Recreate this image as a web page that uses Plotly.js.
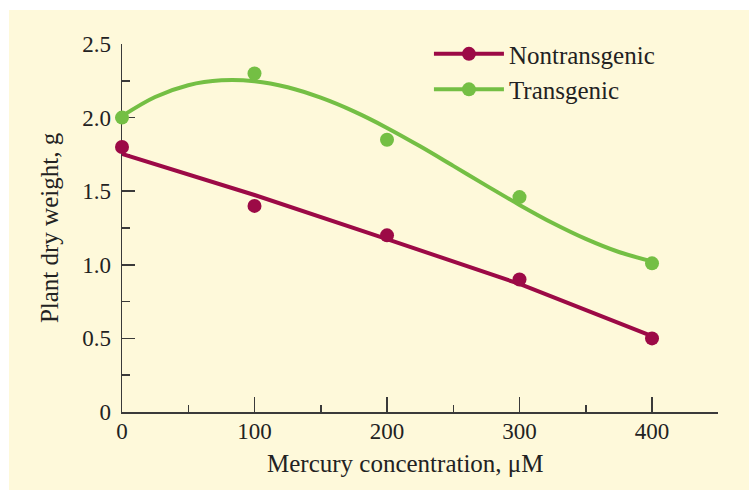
<!DOCTYPE html>
<html>
<head>
<meta charset="utf-8">
<script src="https://cdn.plot.ly/plotly-3.0.1.min.js"></script>
<style>
  html, body { margin: 0; padding: 0; background: #ffffff; width: 749px; height: 496px; overflow: hidden; }
  #chart { position: absolute; left: 9px; top: 10px; width: 740px; height: 480px; }
</style>
</head>
<body>
<div id="chart"></div>
<script>
// Measured data points
const concentration = [0, 100, 200, 300, 400];
const nontransgenic = [1.80, 1.40, 1.20, 0.90, 0.50];
const transgenic = [2.00, 2.30, 1.85, 1.46, 1.01];

// Fitted lines
const nonFitX = [0, 100, 200, 300, 400];
const nonFitY = [1.753, 1.474, 1.175, 0.87, 0.515];
const traFitX = [0, 25, 50, 75, 100, 125, 150, 175, 200, 225, 250, 275, 300, 325, 350, 375, 400];
const traFitY = [2.01, 2.14, 2.22, 2.253, 2.247, 2.206, 2.135, 2.042, 1.93, 1.805, 1.672, 1.538, 1.407, 1.284, 1.176, 1.087, 1.023];

// Tick labels
const yTickVals = [0, 0.5, 1.0, 1.5, 2.0, 2.5];
const yTickText = ['0', '0.5', '1.0', '1.5', '2.0', '2.5'];
const xTickVals = [0, 100, 200, 300, 400];
const xTickText = ['0', '100', '200', '300', '400'];
const seriesNames = ['Nontransgenic', 'Transgenic'];
const xTitle = 'Mercury concentration, μM';
const yTitle = 'Plant dry weight, g';

const RED = '#9C0A46';
const GREEN = '#74BF44';
const AX = '#3a3a3a';
const TXT = '#222222';
const SERIF = '"Liberation Serif", "Times New Roman", serif';

const traces = [
  { x: nonFitX, y: nonFitY, mode: 'lines', line: { color: RED, width: 4 }, showlegend: false, cliponaxis: false, hoverinfo: 'skip' },
  { x: traFitX, y: traFitY, mode: 'lines', line: { color: GREEN, width: 4, shape: 'spline' }, showlegend: false, cliponaxis: false, hoverinfo: 'skip' },
  { x: concentration, y: nontransgenic, mode: 'markers', marker: { color: RED, size: 14 }, showlegend: false, cliponaxis: false },
  { x: concentration, y: transgenic, mode: 'markers', marker: { color: GREEN, size: 14 }, showlegend: false, cliponaxis: false },
  { x: [null], y: [null], name: seriesNames[0], mode: 'lines+markers', line: { color: RED, width: 4 }, marker: { color: RED, size: 14 }, legendgroup: 'a' },
  { x: [null], y: [null], name: seriesNames[1], mode: 'lines+markers', line: { color: GREEN, width: 4 }, marker: { color: GREEN, size: 14 }, legendgroup: 'b' }
];

const layout = {
  width: 740, height: 480,
  paper_bgcolor: '#FEF9DA',
  plot_bgcolor: 'rgba(0,0,0,0)',
  margin: { l: 112.7, r: 30.7, t: 34.3, b: 78.3, pad: 0 },
  font: { family: SERIF, color: TXT, size: 23 },
  showlegend: true,
  legend: {
    x: 0.515, y: 1.035, xanchor: 'left', yanchor: 'top',
    bgcolor: 'rgba(0,0,0,0)',
    font: { family: SERIF, size: 25, color: TXT },
    itemwidth: 70,
    traceorder: 'grouped',
    tracegroupgap: 0
  },
  annotations: [
    { text: xTitle, xref: 'paper', yref: 'paper', x: 0.475, y: -0.14, xanchor: 'center', yanchor: 'middle', showarrow: false, font: { family: SERIF, size: 25, color: TXT } }
  ],
  xaxis: {
    range: [0, 449.8],
    showgrid: false, zeroline: false,
    showline: true, linecolor: AX, linewidth: 1.5,
    layer: 'below traces',
    tickmode: 'array', tickvals: xTickVals, ticktext: xTickText,
    ticks: 'inside', ticklen: 15, tickwidth: 1.5, tickcolor: AX,
    ticklabelstandoff: -2,
    tickfont: { family: SERIF, size: 23, color: TXT },
    minor: { dtick: 50, tick0: 0, ticks: 'inside', ticklen: 7, tickwidth: 1.5, tickcolor: AX, showgrid: false }
  },
  yaxis: {
    range: [0, 2.5],
    showgrid: false, zeroline: false,
    showline: true, linecolor: AX, linewidth: 1.5,
    layer: 'below traces',
    tickmode: 'array', tickvals: yTickVals, ticktext: yTickText,
    ticks: 'inside', ticklen: 13, tickwidth: 1.5, tickcolor: AX,
    ticklabelstandoff: 5,
    tickfont: { family: SERIF, size: 23, color: TXT },
    minor: { dtick: 0.25, tick0: 0, ticks: 'inside', ticklen: 8, tickwidth: 1.5, tickcolor: AX, showgrid: false },
    title: { text: yTitle, font: { family: SERIF, size: 25, color: TXT }, standoff: 16 }
  }
};

Plotly.newPlot('chart', traces, layout, { displayModeBar: false, staticPlot: true });
</script>
</body>
</html>
